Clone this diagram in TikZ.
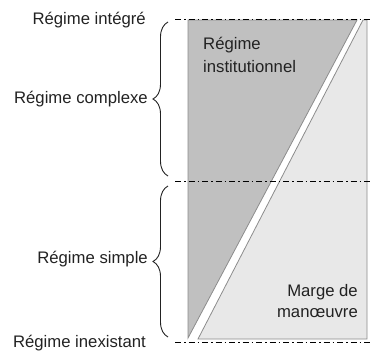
\documentclass[tikz,border=0pt]{standalone}
\usepackage{fontspec}
\setmainfont{Liberation Sans}
\usetikzlibrary{decorations.pathreplacing}
\definecolor{inkgray}{HTML}{222222}
\definecolor{regdark}{HTML}{C0C0C0}
\definecolor{regpale}{HTML}{E8E8E8}
\definecolor{edgegray}{HTML}{8C8C8C}
\tikzset{
  lbl/.style={inner sep=0pt, text=inkgray, font=\fontsize{16.7}{22}\selectfont},
  levelline/.style={draw=black, line width=0.9pt,
    dash pattern=on 6pt off 3pt on 1.5pt off 3pt},
  curly/.style={draw=inkgray, line width=0.9pt,
    decorate, decoration={brace, amplitude=15pt}},
  zone/.style={draw=edgegray, line width=0.8pt, line join=miter},
}
\begin{document}
\begin{tikzpicture}[x=1pt, y=-1pt]
  \useasboundingbox (0,0) rectangle (374,354);

  % the two regions of the bar
  \filldraw[zone, fill=regdark] (188,20) -- (357,20) -- (188,338) -- cycle;
  \filldraw[zone, fill=regpale] (363,20) -- (367,20) -- (367,339) -- (198,339) -- cycle;

  % level lines
  \coordinate (topL) at (175,19);   \coordinate (topR) at (372,19);
  \coordinate (midL) at (175,181);  \coordinate (midR) at (373,181);
  \coordinate (botL) at (175,342);  \coordinate (botR) at (372,342);
  \draw[levelline] (topL) -- (topR);
  \draw[levelline] (midL) -- (midR);
  \draw[levelline] (botL) -- (botR);

  % braces
  \coordinate (cxTop) at (168,22);  \coordinate (cxBot) at (168,176);
  \coordinate (smTop) at (168,186); \coordinate (smBot) at (168,337);
  \draw[curly] (cxBot) -- (cxTop);
  \draw[curly] (smBot) -- (smTop);

  % level labels
  \node[lbl, anchor=base east] (integre) at (146,24) {Régime intégré};
  \node[lbl, anchor=base east] (complexe) at (148,103) {Régime complexe};
  \node[lbl, anchor=base east] (simple) at (148,263) {Régime simple};
  \node[lbl, anchor=base east] (inexistant) at (146,347) {Régime inexistant};

  % region labels
  \node[lbl, anchor=base west] (inst1) at (203,49) {Régime};
  \node[lbl, anchor=base west] (inst2) at (203,72) {institutionnel};
  \node[lbl, anchor=base east] (marge1) at (358,296) {Marge de};
  \node[lbl, anchor=base east] (marge2) at (358,317) {manœuvre};
\end{tikzpicture}
\end{document}
